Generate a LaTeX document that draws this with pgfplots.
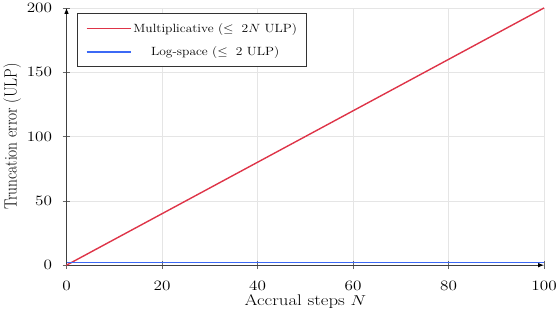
\documentclass[border=0pt]{standalone}
\usepackage{pgfplots}
\pgfplotsset{compat=1.18}
\usetikzlibrary{arrows.meta}
\definecolor{cred}{RGB}{222,52,72}
\definecolor{cblue}{RGB}{60,105,245}
\begin{document}
\begin{tikzpicture}
\begin{axis}[
  scale only axis,
  width=479bp, height=258bp,
  xmin=0, xmax=100, ymin=0, ymax=200,
  axis lines=left,
  axis line style={black!75, line width=0.8pt, -{Latex[length=6pt,width=4.5pt,black]}},
  tick align=center,
  major tick length=8bp,
  xtick={0,20,...,100}, ytick={0,50,...,200},
  grid=major,
  grid style={black!10, line width=0.5pt},
  tick style={black!60, line width=0.6pt},
  ticklabel style={font=\fontsize{14}{16}\selectfont},
  xticklabel={\scalebox{1.2}[1]{$\pgfmathprintnumber{\tick}$}},
  yticklabel={\scalebox{1.2}[1]{$\pgfmathprintnumber{\tick}$}},
  xticklabel style={yshift=-9bp},
  yticklabel style={xshift=-7bp},
  xlabel={\scalebox{1.22}[1]{Accrual steps $N$}},
  ylabel={\scalebox{1}[1.15]{Truncation error (ULP)}},
  label style={font=\fontsize{15.5}{18}\selectfont},
  xlabel style={yshift=3pt},
  ylabel style={yshift=-1pt},
  legend style={font=\fontsize{12}{14}\selectfont, draw=black!80, line width=0.8pt,
    inner xsep=8pt, inner ysep=8pt, at={(0.023,0.981)}, anchor=north west, row sep=9pt},
  legend image code/.code={\draw[#1] (0bp,0bp) -- (44bp,0bp);},
  legend cell align=center,
  clip=false,
]
\addplot[cred, line width=1.4pt] coordinates {(0,0) (100,200)};
\addlegendentry{\scalebox{1.13}[1]{Multiplicative ($\leq\ 2N$ ULP)}}
\addplot[cblue, line width=1.7pt] coordinates {(0,2) (100,2)};
\addlegendentry{\scalebox{1.13}[1]{Log-space ($\leq\ 2$ ULP)}}
\end{axis}
\end{tikzpicture}
\end{document}
